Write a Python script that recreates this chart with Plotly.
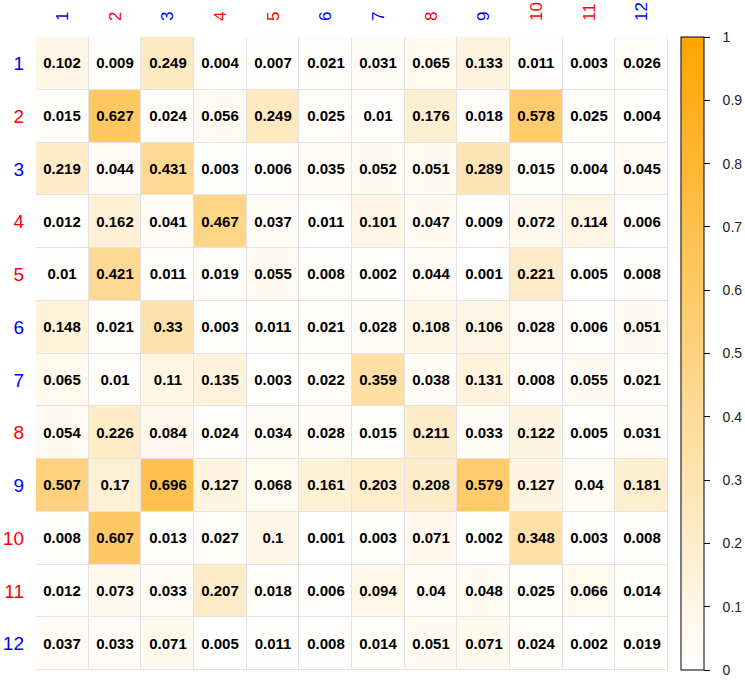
import plotly.graph_objects as go

labels = [str(i) for i in range(1, 13)]
label_colors = ["blue", "red", "blue", "red", "red", "blue",
                "blue", "red", "blue", "red", "red", "blue"]

row1 = [0.102, 0.009, 0.249, 0.004, 0.007, 0.021, 0.031, 0.065, 0.133, 0.011, 0.003, 0.026]
row2 = [0.015, 0.627, 0.024, 0.056, 0.249, 0.025, 0.01, 0.176, 0.018, 0.578, 0.025, 0.004]
row3 = [0.219, 0.044, 0.431, 0.003, 0.006, 0.035, 0.052, 0.051, 0.289, 0.015, 0.004, 0.045]
row4 = [0.012, 0.162, 0.041, 0.467, 0.037, 0.011, 0.101, 0.047, 0.009, 0.072, 0.114, 0.006]
row5 = [0.01, 0.421, 0.011, 0.019, 0.055, 0.008, 0.002, 0.044, 0.001, 0.221, 0.005, 0.008]
row6 = [0.148, 0.021, 0.33, 0.003, 0.011, 0.021, 0.028, 0.108, 0.106, 0.028, 0.006, 0.051]
row7 = [0.065, 0.01, 0.11, 0.135, 0.003, 0.022, 0.359, 0.038, 0.131, 0.008, 0.055, 0.021]
row8 = [0.054, 0.226, 0.084, 0.024, 0.034, 0.028, 0.015, 0.211, 0.033, 0.122, 0.005, 0.031]
row9 = [0.507, 0.17, 0.696, 0.127, 0.068, 0.161, 0.203, 0.208, 0.579, 0.127, 0.04, 0.181]
row10 = [0.008, 0.607, 0.013, 0.027, 0.1, 0.001, 0.003, 0.071, 0.002, 0.348, 0.003, 0.008]
row11 = [0.012, 0.073, 0.033, 0.207, 0.018, 0.006, 0.094, 0.04, 0.048, 0.025, 0.066, 0.014]
row12 = [0.037, 0.033, 0.071, 0.005, 0.011, 0.008, 0.014, 0.051, 0.071, 0.024, 0.002, 0.019]

cbar_ticks = [0, 0.1, 0.2, 0.3, 0.4, 0.5, 0.6, 0.7, 0.8, 0.9, 1]

z = [row1, row2, row3, row4, row5, row6, row7, row8, row9, row10, row11, row12]
text = [[f"{v:g}" for v in r] for r in z]

ticktext = [f"<span style='color:{c}'>{l}</span>" for l, c in zip(labels, label_colors)]

fig = go.Figure(go.Heatmap(
    z=z, x=labels, y=labels,
    text=text, texttemplate="<b>%{text}</b>",
    textfont=dict(family="Liberation Sans, Arial", size=15, color="black"),
    zmin=0, zmax=1,
    colorscale=[[0, "#FFFFFF"], [1, "#FFA500"]],
    xgap=1, ygap=1,
    hoverinfo="skip",
    colorbar=dict(
        thickness=23, len=1,
        x=1.0206, xanchor="left", xpad=0,
        y=0.5, yanchor="middle", ypad=0,
        outlinewidth=1, outlinecolor="black",
        tickvals=cbar_ticks,
        ticktext=["\u2002\u2009" + f"{t:g}" for t in cbar_ticks],  # extra gap after tick
        ticks="outside", ticklen=6, tickcolor="black",
        tickfont=dict(family="Liberation Sans, Arial", size=14, color="#222222"),
    ),
))

fig.update_xaxes(side="top", tickangle=-90, tickvals=labels, ticktext=ticktext,
                 tickfont=dict(family="Liberation Sans, Arial", size=17),
                 showgrid=False, zeroline=False, ticks="", showline=False,
                 automargin=False, ticklabelstandoff=15)
fig.update_yaxes(autorange="reversed", tickvals=labels, ticktext=ticktext,
                 tickfont=dict(family="Liberation Sans, Arial", size=19),
                 showgrid=False, zeroline=False, ticks="", showline=False,
                 automargin=False, ticklabelstandoff=11)

fig.update_layout(
    width=745, height=681,
    margin=dict(l=36, r=77, t=37, b=11, autoexpand=False),
    plot_bgcolor="#e3e3e3", paper_bgcolor="white",
)

# drop the default page margin so the figure sits at the window corner
fig.write_html("out.html", config={"displayModeBar": False},
               post_script="document.body.style.margin='0px';")
